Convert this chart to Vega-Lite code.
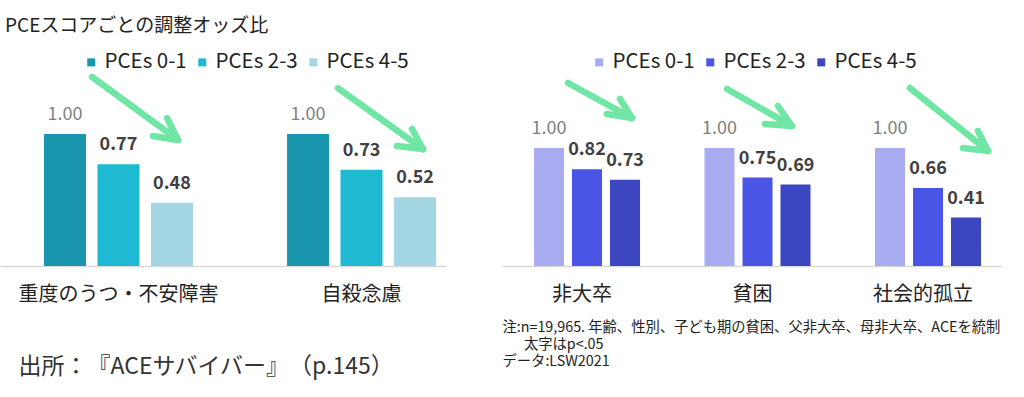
{
  "$schema": "https://vega.github.io/schema/vega-lite/v6.json",
  "background": "white",
  "padding": {"left": 0, "top": 17, "right": 0, "bottom": 12},
  "config": {
    "view": {"stroke": null},
    "font": "Noto Sans CJK JP",
    "axis": {"grid": false, "ticks": false},
    "legend": {
      "orient": "none",
      "direction": "horizontal",
      "title": null,
      "symbolType": "square",
      "symbolSize": 64,
      "symbolStrokeWidth": 0,
      "symbolOpacity": 1,
      "labelFontSize": 20.5,
      "labelColor": "#222222",
      "labelOffset": 3,
      "columnPadding": 5
    }
  },
  "title": {
    "text": "PCEスコアごとの調整オッズ比",
    "anchor": "start",
    "fontSize": 19,
    "fontWeight": "normal",
    "color": "#222222",
    "dx": 5,
    "offset": 16
  },
  "datasets": {
    "left": [
      {"outcome": "重度のうつ・不安障害", "group": "PCEs 0-1", "value": 1.00},
      {"outcome": "重度のうつ・不安障害", "group": "PCEs 2-3", "value": 0.77},
      {"outcome": "重度のうつ・不安障害", "group": "PCEs 4-5", "value": 0.48},
      {"outcome": "自殺念慮", "group": "PCEs 0-1", "value": 1.00},
      {"outcome": "自殺念慮", "group": "PCEs 2-3", "value": 0.73},
      {"outcome": "自殺念慮", "group": "PCEs 4-5", "value": 0.52}
    ],
    "right": [
      {"outcome": "非大卒", "group": "PCEs 0-1", "value": 1.00},
      {"outcome": "非大卒", "group": "PCEs 2-3", "value": 0.82},
      {"outcome": "非大卒", "group": "PCEs 4-5", "value": 0.73},
      {"outcome": "貧困", "group": "PCEs 0-1", "value": 1.00},
      {"outcome": "貧困", "group": "PCEs 2-3", "value": 0.75},
      {"outcome": "貧困", "group": "PCEs 4-5", "value": 0.69},
      {"outcome": "社会的孤立", "group": "PCEs 0-1", "value": 1.00},
      {"outcome": "社会的孤立", "group": "PCEs 2-3", "value": 0.66},
      {"outcome": "社会的孤立", "group": "PCEs 4-5", "value": 0.41}
    ],
    "leftArrows": [
      {"x": -0.111, "y": 1.432, "x2": 0.243, "y2": 0.955},
      {"x": 0.198, "y": 1.121, "x2": 0.243, "y2": 0.955},
      {"x": 0.140, "y": 0.985, "x2": 0.243, "y2": 0.955},
      {"x": 0.901, "y": 1.348, "x2": 1.251, "y2": 0.886},
      {"x": 1.206, "y": 1.038, "x2": 1.251, "y2": 0.886},
      {"x": 1.144, "y": 0.909, "x2": 1.251, "y2": 0.886}
    ],
    "rightArrows": [
      {"x": -0.111, "y": 1.551, "x2": 0.264, "y2": 1.254},
      {"x": 0.194, "y": 1.415, "x2": 0.264, "y2": 1.254},
      {"x": 0.117, "y": 1.288, "x2": 0.264, "y2": 1.254},
      {"x": 0.821, "y": 1.500, "x2": 1.202, "y2": 1.186},
      {"x": 1.120, "y": 1.356, "x2": 1.202, "y2": 1.186},
      {"x": 1.044, "y": 1.203, "x2": 1.202, "y2": 1.186},
      {"x": 1.894, "y": 1.508, "x2": 2.352, "y2": 0.975},
      {"x": 2.293, "y": 1.144, "x2": 2.352, "y2": 0.975},
      {"x": 2.205, "y": 1.000, "x2": 2.352, "y2": 0.975}
    ]
  },
  "spacing": 56,
  "resolve": {
    "scale": {"x": "independent", "y": "independent", "color": "independent", "xOffset": "independent"},
    "legend": {"color": "independent"}
  },
  "hconcat": [
    {
      "width": 446,
      "height": 198,
      "resolve": {"scale": {"x": "independent"}, "axis": {"x": "independent"}},
      "layer": [
        {
          "data": {"name": "left"},
          "encoding": {
            "x": {
              "field": "outcome", "type": "nominal", "sort": null,
              "scale": {"paddingInner": 0.387, "paddingOuter": 0.111, "align": 0.815},
              "axis": {
                "labelAngle": 0, "labelFontSize": 20, "labelColor": "#222222", "labelPadding": 18, "labelLimit": 0,
                "domainColor": "#d9d9d9", "domainWidth": 1.5,
                "title": "出所：\u200b『ACEサバイバー』\u200b（p.145）",
                "titleFontSize": 23, "titleFontWeight": "normal", "titleColor": "#333333", "titleLimit": 0,
                "titleAnchor": "start", "titleAlign": "left", "titleBaseline": "top",
                "titleX": 18, "titleY": 89
              }
            },
            "xOffset": {"field": "group", "type": "nominal", "sort": null, "scale": {"paddingInner": 0.215, "paddingOuter": 0}},
            "y": {"field": "value", "type": "quantitative", "scale": {"domain": [0, 1.5], "nice": false}, "axis": null}
          },
          "layer": [
            {
              "mark": {"type": "bar"},
              "encoding": {
                "color": {
                  "field": "group", "type": "nominal", "sort": null,
                  "scale": {"domain": ["PCEs 0-1", "PCEs 2-3", "PCEs 4-5"], "range": ["#1996ad", "#1fb9d3", "#a4d6e4"]},
                  "legend": {"legendX": 81, "legendY": -16}
                }
              }
            },
            {
              "transform": [{"filter": "datum.group === 'PCEs 0-1'"}],
              "mark": {"type": "text", "fontSize": 18, "color": "#7f7f7f", "baseline": "alphabetic", "dy": -14},
              "encoding": {"text": {"field": "value", "type": "quantitative", "format": ".2f"}}
            },
            {
              "transform": [{"filter": "datum.group !== 'PCEs 0-1'"}],
              "mark": {"type": "text", "fontSize": 18, "fontWeight": "bold", "color": "#404040", "baseline": "alphabetic", "dy": -14},
              "encoding": {"text": {"field": "value", "type": "quantitative", "format": ".2f"}}
            }
          ]
        },
        {
          "data": {"name": "leftArrows"},
          "mark": {"type": "rule", "color": "#6fe6a3", "strokeWidth": 6.5, "strokeCap": "round"},
          "encoding": {
            "x": {"field": "x", "type": "quantitative", "scale": {"domain": [-0.4897, 1.3457], "nice": false, "zero": false}, "axis": null},
            "x2": {"field": "x2"},
            "y": {"field": "y", "type": "quantitative", "scale": {"domain": [0, 1.5], "nice": false}, "axis": null},
            "y2": {"field": "y2"}
          }
        }
      ]
    },
    {
      "width": 500,
      "height": 198,
      "resolve": {"scale": {"x": "independent"}, "axis": {"x": "independent"}},
      "layer": [
        {
          "data": {"name": "right"},
          "encoding": {
            "x": {
              "field": "outcome", "type": "nominal", "sort": null,
              "scale": {"paddingInner": 0.378, "paddingOuter": 0.1553, "align": 0.604},
              "axis": {
                "labelAngle": 0, "labelFontSize": 20, "labelColor": "#222222", "labelPadding": 18, "labelOffset": -5,
                "domainColor": "#d9d9d9", "domainWidth": 1.5,
                "title": ["注:n=19,965. 年齢、性別、子ども期の貧困、父非大卒、母非大卒、ACEを統制", "\u200b\u3000\u2002太字はp<.05", "データ:LSW2021"],
                "titleFontSize": 14.3, "titleFontWeight": "normal", "titleColor": "#222222", "titleLineHeight": 17, "titleLimit": 0,
                "titleAnchor": "start", "titleAlign": "left", "titleBaseline": "top",
                "titleX": 0, "titleY": 54
              }
            },
            "xOffset": {"field": "group", "type": "nominal", "sort": null, "scale": {"paddingInner": 0.2105, "paddingOuter": 0}},
            "y": {"field": "value", "type": "quantitative", "scale": {"domain": [0, 1.678], "nice": false}, "axis": null}
          },
          "layer": [
            {
              "mark": {"type": "bar"},
              "encoding": {
                "color": {
                  "field": "group", "type": "nominal", "sort": null,
                  "scale": {"domain": ["PCEs 0-1", "PCEs 2-3", "PCEs 4-5"], "range": ["#a9acf0", "#4a55e5", "#3c46c0"]},
                  "legend": {"legendX": 87, "legendY": -16}
                }
              }
            },
            {
              "transform": [{"filter": "datum.group === 'PCEs 0-1'"}],
              "mark": {"type": "text", "fontSize": 18, "color": "#7f7f7f", "baseline": "alphabetic", "dy": -14},
              "encoding": {"text": {"field": "value", "type": "quantitative", "format": ".2f"}}
            },
            {
              "transform": [{"filter": "datum.group !== 'PCEs 0-1'"}],
              "mark": {"type": "text", "fontSize": 18, "fontWeight": "bold", "color": "#404040", "baseline": "alphabetic", "dy": -14},
              "encoding": {"text": {"field": "value", "type": "quantitative", "format": ".2f"}}
            }
          ]
        },
        {
          "data": {"name": "rightArrows"},
          "mark": {"type": "rule", "color": "#6fe6a3", "strokeWidth": 6.5, "strokeCap": "round"},
          "encoding": {
            "x": {"field": "x", "type": "quantitative", "scale": {"domain": [-0.4985, 2.434], "nice": false, "zero": false}, "axis": null},
            "x2": {"field": "x2"},
            "y": {"field": "y", "type": "quantitative", "scale": {"domain": [0, 1.678], "nice": false}, "axis": null},
            "y2": {"field": "y2"}
          }
        }
      ]
    }
  ]
}
